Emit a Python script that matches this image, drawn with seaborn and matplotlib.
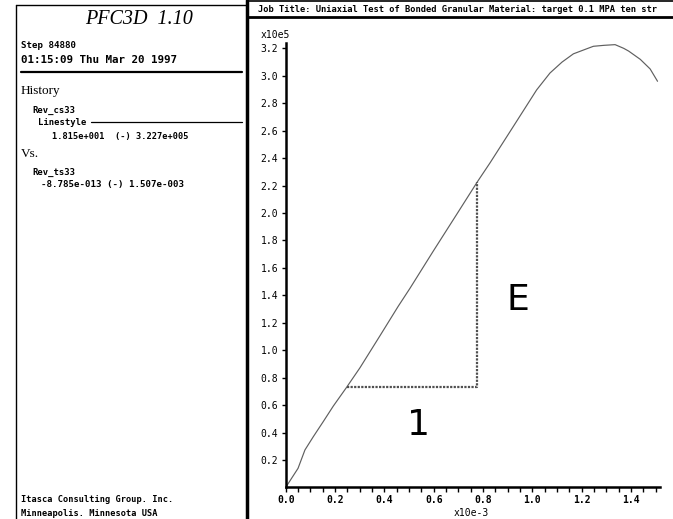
import numpy as np
import pandas as pd
import matplotlib
matplotlib.use("Agg")
import matplotlib.pyplot as plt
from matplotlib.lines import Line2D
from matplotlib.ticker import MultipleLocator, FixedLocator
import seaborn as sns

# ---- data ----
strain = [0.000, 0.050, 0.078, 0.112, 0.152, 0.193, 0.247, 0.301, 0.382, 0.456,
          0.504, 0.598, 0.693, 0.777, 0.828, 0.923, 1.017, 1.071, 1.120, 1.166,
          1.210, 1.247, 1.290, 1.335, 1.370, 1.390, 1.437, 1.477, 1.507]
stress = [0.000, 0.139, 0.273, 0.370, 0.479, 0.593, 0.730, 0.872, 1.105, 1.320,
          1.452, 1.722, 1.990, 2.228, 2.365, 2.632, 2.897, 3.020, 3.100, 3.160,
          3.190, 3.215, 3.222, 3.227, 3.200, 3.180, 3.120, 3.050, 2.960]
tri_x = [0.247, 0.777, 0.777]
tri_y = [0.730, 0.730, 2.228]
x_ticks = [0.0, 0.2, 0.4, 0.6, 0.8, 1.0, 1.2, 1.4]
x_tick_labels = ["0.0", "0.2", "0.4", "0.6", "0.8", "1.0", "1.2", "1.4"]
y_ticks = [0.2, 0.4, 0.6, 0.8, 1.0, 1.2, 1.4, 1.6, 1.8, 2.0, 2.2, 2.4, 2.6, 2.8, 3.0, 3.2]
y_tick_labels = ["0.2", "0.4", "0.6", "0.8", "1.0", "1.2", "1.4", "1.6", "1.8", "2.0",
                 "2.2", "2.4", "2.6", "2.8", "3.0", "3.2"]

job_title = "Job Title: Uniaxial Test of Bonded Granular Material: target 0.1 MPA ten str"

sns.set_theme(style="white")
plt.rcParams["font.family"] = ["DejaVu Sans"]
plt.rcParams["text.color"] = "black"
plt.rcParams["xtick.color"] = "black"
plt.rcParams["ytick.color"] = "black"
plt.rcParams["axes.labelcolor"] = "black"

W, H = 673, 519
fig = plt.figure(figsize=(W / 100, H / 100), dpi=100)
fig.patch.set_facecolor("white")


def fx(x):
    return x / W


def fy(y):
    return 1 - y / H


def fline(x1, y1, x2, y2, lw=1.0, color="black"):
    fig.add_artist(Line2D([fx(x1), fx(x2)], [fy(y1), fy(y2)],
                          transform=fig.transFigure, color=color, lw=lw))


mono = "DejaVu Sans Mono"

# ---- main axes ----
ax_l, ax_r, ax_b, ax_t = 285.7, 660.0, 487.4, 43.0
ax = fig.add_axes([fx(ax_l), fy(ax_b), fx(ax_r) - fx(ax_l), fy(ax_t) - fy(ax_b)])
df = pd.DataFrame({"strain": strain, "stress": stress})
sns.lineplot(data=df, x="strain", y="stress", ax=ax, color="#5f5f5f", lw=0.85,
             sort=False, estimator=None)
ax.plot(tri_x, tri_y, color="#505050", lw=1.6, ls=(0, (1, 0.6)))
ax.text(0.942, 1.366, "E", fontsize=26, ha="center", va="center", color="black",
        family="DejaVu Sans")
ax.text(0.540, 0.455, "1", fontsize=26, ha="center", va="center", color="black",
        family="DejaVu Sans")

ax.set_xlim(0, 1.517)
ax.set_ylim(0, 3.239)
ax.set_xlabel("")
ax.set_ylabel("")
for s in ["top", "right"]:
    ax.spines[s].set_visible(False)
for s in ["left", "bottom"]:
    ax.spines[s].set_visible(True)
    ax.spines[s].set_linewidth(1.8)
    ax.spines[s].set_color("black")
ax.set_facecolor("white")
ax.grid(False)

ax.xaxis.set_major_locator(FixedLocator(x_ticks))
ax.set_xticklabels(x_tick_labels, family=mono, fontsize=7, fontweight="bold")
ax.xaxis.set_minor_locator(MultipleLocator(0.05))
ax.yaxis.set_major_locator(FixedLocator(y_ticks))
ax.set_yticklabels(y_tick_labels, family=mono, fontsize=7)
ax.tick_params(axis="x", which="both", direction="out", length=3.6, width=1.0,
               color="black", labelcolor="black", bottom=True, pad=2)
ax.tick_params(axis="y", which="major", direction="out", length=3.0, width=1.0,
               color="black", labelcolor="black", left=True, pad=2.5)

fig.text(fx(261), fy(35), "x10e5", family=mono, fontsize=7, ha="left", va="center")
fig.text(fx(471), fy(513), "x10e-3", family=mono, fontsize=7, ha="center", va="center")

# ---- title bar ----
fline(247, 0.7, W, 0.7, lw=1.2)
fline(247, 16.5, W, 16.5, lw=2.0)
fig.text(fx(258), fy(9), job_title, family=mono, fontsize=6.3, fontweight="bold",
         ha="left", va="center")

# ---- left panel ----
fline(247, 0, 247, H, lw=2.5)
fline(16, 5, 16, H, lw=1.0)
fline(16, 5, 247, 5, lw=1.0)
fig.text(fx(139), fy(19), "PFC3D  1.10", family="Liberation Serif", style="italic",
         fontsize=14.5, ha="center", va="center")
fig.text(fx(21), fy(45), "Step 84880", family=mono, fontsize=6.6, fontweight="bold",
         ha="left", va="center")
fig.text(fx(21), fy(60), "01:15:09 Thu Mar 20 1997", family=mono, fontsize=7.8,
         fontweight="bold", ha="left", va="center")
fline(20.7, 71.7, 242, 71.7, lw=1.6)
fig.text(fx(21), fy(91.5), "History", family="Liberation Serif", fontsize=9.5,
         ha="left", va="center")
fig.text(fx(32.7), fy(110), "Rev_cs33", family=mono, fontsize=6.4, fontweight="bold",
         ha="left", va="center")
fig.text(fx(37.7), fy(122.5), "Linestyle", family=mono, fontsize=6.4, fontweight="bold",
         ha="left", va="center")
fline(91, 121.7, 242, 121.7, lw=0.9)
fig.text(fx(52.3), fy(136.5), "1.815e+001  (-) 3.227e+005", family=mono, fontsize=6.2,
         fontweight="bold", ha="left", va="center")
fig.text(fx(21), fy(154.3), "Vs.", family="Liberation Serif", fontsize=9.5,
         ha="left", va="center")
fig.text(fx(32.7), fy(172.5), "Rev_ts33", family=mono, fontsize=6.4, fontweight="bold",
         ha="left", va="center")
fig.text(fx(41), fy(185), "-8.785e-013 (-) 1.507e-003", family=mono, fontsize=6.6,
         fontweight="bold", ha="left", va="center")
fig.text(fx(21), fy(499.5), "Itasca Consulting Group. Inc.", family=mono, fontsize=6.2,
         fontweight="bold", ha="left", va="center")
fig.text(fx(21), fy(513.5), "Minneapolis. Minnesota USA", family=mono, fontsize=6.2,
         fontweight="bold", ha="left", va="center")

fig.savefig("out.png", dpi=100, facecolor="white")
